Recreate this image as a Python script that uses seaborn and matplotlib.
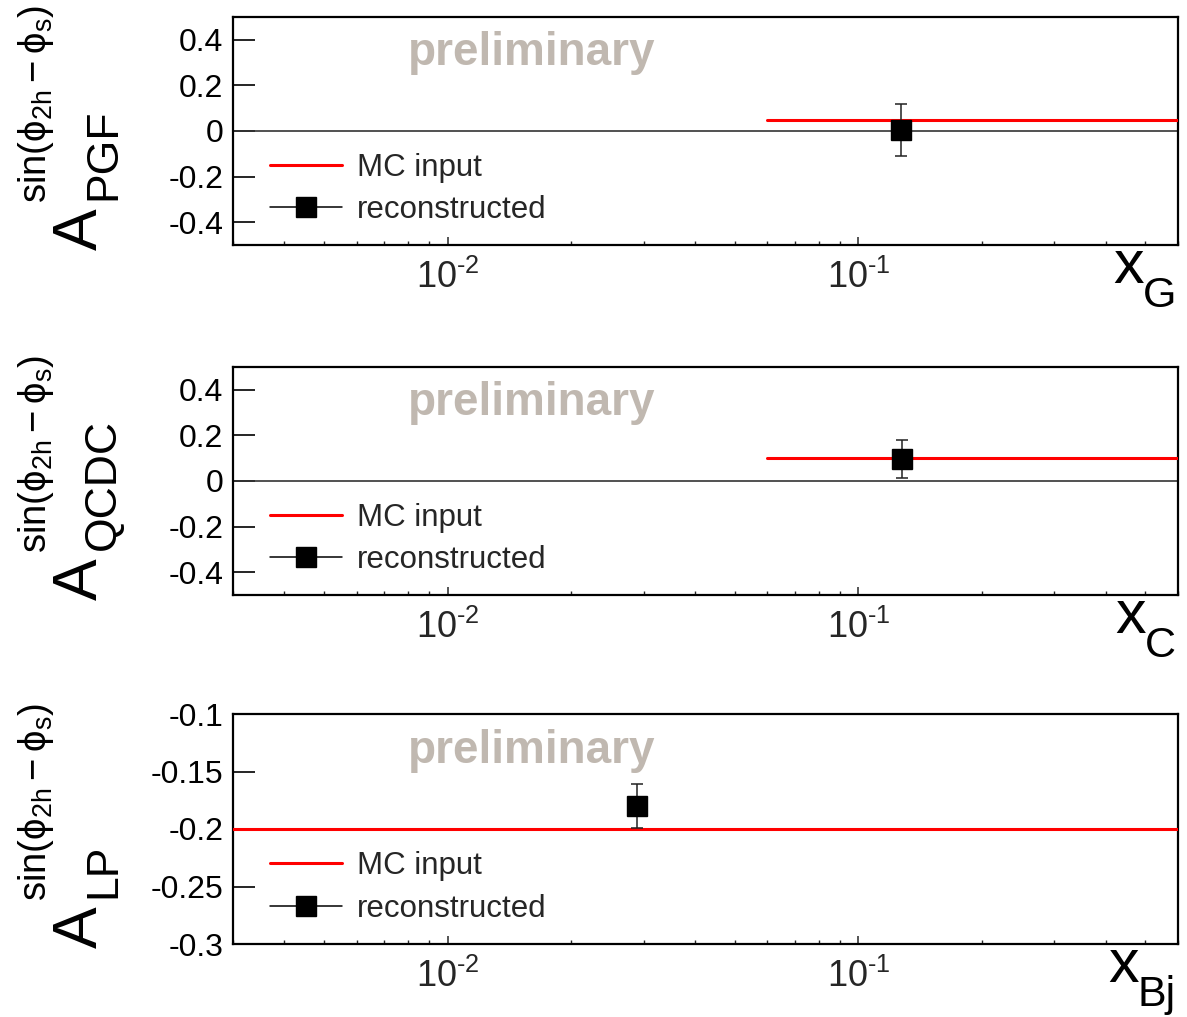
import numpy as np
import pandas as pd
import matplotlib
matplotlib.use("Agg")
import matplotlib.pyplot as plt
from matplotlib.lines import Line2D
from matplotlib.ticker import LogLocator, NullFormatter, FixedLocator, FixedFormatter, FuncFormatter
import seaborn as sns

# ---------------- data ----------------
panel_names = ["PGF", "QCDC", "LP"]
xlabel_subs = ["G", "C", "Bj"]

# MC input (horizontal line): x-range and value
mc_x_start = [0.06, 0.06, 0.003]
mc_x_end = [0.6, 0.6, 0.6]
mc_value = [0.05, 0.10, -0.20]

# reconstructed points
rec_x = [0.127, 0.128, 0.0289]
rec_y = [0.005, 0.095, -0.180]
rec_err = [0.115, 0.083, 0.019]

# axis ranges / ticks
ylims = [(-0.5, 0.5), (-0.5, 0.5), (-0.3, -0.1)]
yticks = [[-0.4, -0.2, 0.0, 0.2, 0.4],
          [-0.4, -0.2, 0.0, 0.2, 0.4],
          [-0.3, -0.25, -0.2, -0.15, -0.1]]
yticklabels = [["-0.4", "-0.2", "0", "0.2", "0.4"],
               ["-0.4", "-0.2", "0", "0.2", "0.4"],
               ["-0.3", "-0.25", "-0.2", "-0.15", "-0.1"]]
xlim = (0.003, 0.6)

# ---------------- style ----------------
sns.set_theme(style="white")
plt.rcParams["font.family"] = ["Liberation Sans", "DejaVu Sans"]
plt.rcParams["mathtext.fontset"] = "custom"
plt.rcParams["mathtext.rm"] = "Liberation Sans"
plt.rcParams["mathtext.it"] = "Liberation Sans"
plt.rcParams["mathtext.sf"] = "Liberation Sans"
plt.rcParams["mathtext.default"] = "regular"
plt.rcParams["mathtext.fallback"] = "stixsans"
plt.rcParams["axes.unicode_minus"] = False

fig = plt.figure(figsize=(11.87, 10.17), dpi=100)

W, H = 1187.0, 1017.0
left_px, right_px = 233, 1178
tops = [17, 367, 714]
bottoms = [245, 595, 944]

prelim_color = "#c0b8b0"


def fx(px):
    return px / W


def fy(py):
    return 1 - py / H


def log_label(v, pos):
    e = int(round(np.log10(v)))
    return r"$10^{\text{-}%d}$" % (-e) if e < 0 else r"$10^{%d}$" % e


sub_texts = []
for i in range(3):
    ax = fig.add_axes([fx(left_px), fy(bottoms[i]),
                       (right_px - left_px) / W, (bottoms[i] - tops[i]) / H])
    ax.set_xscale("log")
    ax.set_xlim(*xlim)
    ax.set_ylim(*ylims[i])

    # zero line
    if ylims[i][0] < 0 < ylims[i][1]:
        ax.axhline(0.0, color="#333333", lw=1.2, zorder=1)

    # MC input line via seaborn
    mc_df = pd.DataFrame({"x": [mc_x_start[i], mc_x_end[i]],
                          "y": [mc_value[i], mc_value[i]]})
    sns.lineplot(data=mc_df, x="x", y="y", ax=ax, color="red", lw=2.2,
                 zorder=3, legend=False)

    # reconstructed point
    ax.errorbar([rec_x[i]], [rec_y[i]], yerr=[rec_err[i]], fmt="s",
                color="black", ecolor="#222222", elinewidth=1.1, capsize=4.5,
                capthick=1.1, markersize=15, zorder=4)

    # ticks
    ax.yaxis.set_major_locator(FixedLocator(yticks[i]))
    ax.yaxis.set_major_formatter(FixedFormatter(yticklabels[i]))
    ax.xaxis.set_major_locator(LogLocator(base=10, numticks=10))
    ax.xaxis.set_major_formatter(FuncFormatter(log_label))
    ax.xaxis.set_minor_locator(LogLocator(base=10, subs=np.arange(2, 10), numticks=20))
    ax.xaxis.set_minor_formatter(NullFormatter())
    ax.tick_params(axis="y", which="major", direction="in", length=16, width=1.2,
                   labelsize=23, pad=7, left=True, right=False, colors="black")
    ax.tick_params(axis="x", which="major", direction="in", length=6, width=1.1,
                   labelsize=26, pad=11, bottom=True, top=False)
    ax.tick_params(axis="x", which="minor", direction="in", length=3, width=1.0,
                   bottom=True, top=False)
    ax.tick_params(axis="y", which="minor", left=False, right=False)
    for sp in ax.spines.values():
        sp.set_color("black")
        sp.set_linewidth(1.6)
    ax.set_xlabel("")
    ax.set_ylabel("")
    ax.grid(False)

    # y label built from parts (A, subscript, superscript), rotated
    yc = (tops[i] + bottoms[i]) / 2.0
    fig.text(fx(97), fy(yc + 119), "A", rotation=90, rotation_mode="anchor",
             ha="left", va="baseline", fontsize=45, color="black")
    fig.text(fx(115), fy(yc + 69), panel_names[i], rotation=90,
             rotation_mode="anchor", ha="left", va="baseline", fontsize=32,
             color="black")
    fig.text(fx(46), fy(yc + 72), r"$sin(ϕ_{2h} - ϕ_{s})$", rotation=90,
             rotation_mode="anchor", ha="left", va="baseline", fontsize=27.5,
             color="black")

    # x label: subscript right aligned, "x" placed left of it later
    st = fig.text(fx(1176), fy(bottoms[i] + 62), xlabel_subs[i], ha="right",
                  va="baseline", fontsize=31, color="black")
    sub_texts.append((st, bottoms[i] + 38))

    # preliminary
    ax.text(0.185, 0.789, "preliminary", transform=ax.transAxes, ha="left",
            va="baseline", fontsize=33, fontweight="bold", color=prelim_color)

    # legend
    handles = [Line2D([], [], color="red", lw=2.2),
               Line2D([], [], color="black", lw=1.1, marker="s", markersize=15)]
    ax.legend(handles, ["MC input", "reconstructed"], loc="center left",
              bbox_to_anchor=(0.039, 0.246), frameon=False, fontsize=22.5,
              handlelength=2.3, handletextpad=0.5, labelspacing=0.4,
              borderpad=0, borderaxespad=0)

fig.canvas.draw()
renderer = fig.canvas.get_renderer()
for st, xb in sub_texts:
    bb = st.get_window_extent(renderer)
    x0_px = bb.x0  # display px from left
    fig.text(fx(x0_px + 1), fy(xb), "x", ha="right", va="baseline",
             fontsize=44, color="black")

fig.savefig("out.png", dpi=100)
